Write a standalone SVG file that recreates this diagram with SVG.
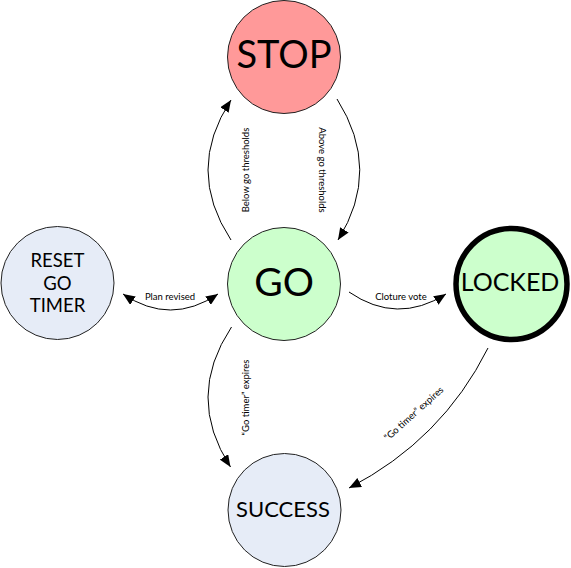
<svg xmlns="http://www.w3.org/2000/svg" width="571" height="568" viewBox="0 0 571 568">
<defs>
<style>
.node{stroke:#222;stroke-width:1}
.big{font-family:Lato,"Liberation Sans",sans-serif;fill:#000;text-anchor:middle}
.lbl{font-family:Lato,"Liberation Sans",sans-serif;font-size:9.5px;fill:#000;text-anchor:middle}
.edge{fill:none;stroke:#000;stroke-width:1}
</style>
<marker id="arr" viewBox="0 0 12 10" refX="12" refY="5" markerWidth="12" markerHeight="10" markerUnits="userSpaceOnUse" orient="auto-start-reverse">
<path d="M0,0 L12,5 L0,10 z" fill="#000"/>
</marker>
</defs>
<rect width="571" height="568" fill="#fff"/>
<g id="edges">
<path class="edge" d="M231,240 Q185,170 231,100" marker-end="url(#arr)"/>
<path class="edge" d="M337,99 Q382,170 338,240" marker-end="url(#arr)"/>
<path class="edge" d="M218,294 Q170.5,326 123,294" marker-start="url(#arr)" marker-end="url(#arr)"/>
<path class="edge" d="M349,292 Q397,325 446,294" marker-end="url(#arr)"/>
<path class="edge" d="M231.5,327 Q185,397 230.5,467" marker-end="url(#arr)"/>
<path class="edge" d="M488,348 Q442,440 349,488" marker-end="url(#arr)"/>
<text class="lbl" transform="translate(249,170) rotate(-90)">Below go thresholds</text>
<text class="lbl" transform="translate(319,170) rotate(90)">Above go thresholds</text>
<text class="lbl" x="170" y="300">Plan revised</text>
<text class="lbl" x="401" y="300">Cloture vote</text>
<text class="lbl" transform="translate(249,397.5) rotate(-90)">“Go timer” expires</text>
<text class="lbl" transform="translate(416,416) rotate(-42)">“Go timer” expires</text>
</g>
<g id="stop">
<circle class="node" cx="284" cy="57" r="56.5" fill="#ff9999"/>
<text class="big" x="284" y="68" font-size="38">STOP</text>
</g>
<g id="go">
<circle class="node" cx="284" cy="284" r="56.5" fill="#ccffcc"/>
<text class="big" x="284" y="296" font-size="39">GO</text>
</g>
<g id="reset">
<circle class="node" cx="57.5" cy="283" r="56.5" fill="#e6ecf7"/>
<text class="big" x="57.5" y="267" font-size="18.5">RESET</text>
<text class="big" x="57.5" y="289.5" font-size="18.5">GO</text>
<text class="big" x="57.5" y="312" font-size="18.5">TIMER</text>
</g>
<g id="locked">
<circle cx="511.5" cy="284" r="55.5" fill="#ccffcc" stroke="#000" stroke-width="5.5"/>
<text class="big" x="510" y="291" font-size="25">LOCKED</text>
</g>
<g id="success">
<circle class="node" cx="284.5" cy="510" r="56.5" fill="#e6ecf7"/>
<text class="big" x="283" y="517" font-size="22">SUCCESS</text>
</g>
</svg>
